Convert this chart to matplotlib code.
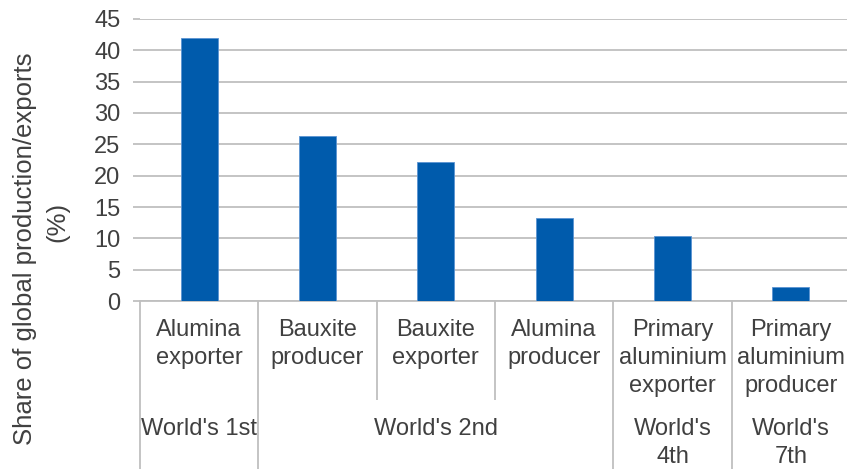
import matplotlib
matplotlib.use("Agg")
import matplotlib.pyplot as plt
from matplotlib.transforms import blended_transform_factory

# Chart data
categories = ["Alumina\nexporter", "Bauxite\nproducer", "Bauxite\nexporter",
              "Alumina\nproducer", "Primary\naluminium\nexporter",
              "Primary\naluminium\nproducer"]
shares = [42.0, 26.3, 22.2, 13.2, 10.4, 2.2]
rank_labels = ["World's 1st", "World's 2nd", "World's\n4th", "World's\n7th"]
rank_spans = [(0, 0), (1, 3), (4, 4), (5, 5)]   # first/last category index per rank group
yticks = [0, 5, 10, 15, 20, 25, 30, 35, 40, 45]

W, H = 847, 469
TEXT = "#404040"
GRID = "#BFBFBF"
BAR = "#005BAC"

plt.rcParams["font.family"] = ["Liberation Sans", "DejaVu Sans"]

fig = plt.figure(figsize=(W / 100, H / 100), dpi=100)
ax = fig.add_axes([140 / W, 1 - 301 / H, (850 - 140) / W, (301 - 19) / H])

x = list(range(len(categories)))
ax.bar(x, shares, width=0.31, color=BAR, edgecolor="#5A93D2", linewidth=0.6, zorder=3)

ax.set_xlim(-0.5, len(categories) - 0.5)
ax.set_ylim(0, 45)
ax.set_yticks(yticks)
ax.set_xticks([])
ax.grid(axis="y", color=GRID, linewidth=1.3, zorder=0)
for side in ("top", "right", "left"):
    ax.spines[side].set_visible(False)
ax.spines["bottom"].set_color(GRID)
ax.spines["bottom"].set_linewidth(1.3)
ax.tick_params(axis="y", length=5, width=1.3, color=GRID, pad=9,
               labelsize=17, labelcolor=TEXT)

# Multi-level category axis drawn below the plot
tr = blended_transform_factory(ax.transData, fig.transFigure)

def fy(py):
    return 1 - py / H

# separators between categories: full height at group borders, short inside groups
group_edges = {-0.5}
for a, b in rank_spans:
    group_edges.add(a - 0.5)
    group_edges.add(b + 0.5)
for i in range(len(categories) + 1):
    xe = i - 0.5
    bottom = H if xe in group_edges else 400
    ax.plot([xe, xe], [fy(301), fy(bottom)], transform=tr, color=GRID,
            linewidth=1.3, clip_on=False, solid_capstyle="butt")

for xi, lab in zip(x, categories):
    ax.text(xi, fy(319), lab, transform=tr, ha="center", va="top",
            fontsize=17, color=TEXT, linespacing=1.34)

for (a, b), lab in zip(rank_spans, rank_labels):
    ax.text((a + b) / 2, fy(418), lab, transform=tr, ha="center", va="top",
            fontsize=17, color=TEXT, linespacing=1.34)

# y-axis title in two lines
fig.text(25 / W, fy(249), "Share of global production/exports", rotation=90,
         ha="center", va="center", fontsize=18.5, color=TEXT)
fig.text(57 / W, fy(222), "(%)", rotation=90,
         ha="center", va="center", fontsize=18.5, color=TEXT)

fig.savefig("out.png", dpi=100)
